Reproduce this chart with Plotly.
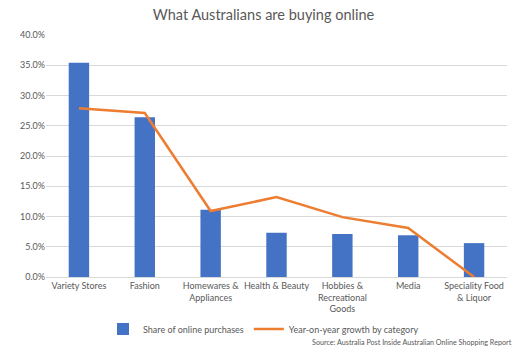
import plotly.graph_objects as go

categories = ["Variety Stores", "Fashion", "Homewares &<br>Appliances", "Health & Beauty",
              "Hobbies &<br>Recreational<br>Goods", "Media", "Speciality Food<br>& Liquor"]
share = [0.354, 0.264, 0.111, 0.073, 0.071, 0.069, 0.056]
growth = [0.279, 0.271, 0.109, 0.132, 0.099, 0.081, 0.0]
tick_vals = [0, 0.05, 0.10, 0.15, 0.20, 0.25, 0.30, 0.35, 0.40]

FONT = "Lato"
GRAY = "#595959"

fig = go.Figure()
fig.add_trace(go.Bar(x=categories, y=share, name="Share of online purchases",
                     marker=dict(color="#4472C4", line=dict(width=0)), width=0.31))
fig.add_trace(go.Scatter(x=categories, y=growth, name="Year-on-year growth by category",
                         mode="lines", line=dict(color="#ED7D31", width=2.5)))

fig.update_layout(
    width=527, height=352,
    margin=dict(l=46, r=20, t=35, b=75, autoexpand=False),
    paper_bgcolor="white", plot_bgcolor="white",
    font=dict(family=FONT, color=GRAY, size=9),
    title=dict(text="What Australians are buying online", x=0.5, xanchor="center",
               xref="container", yref="container",
               y=1 - 15 / 352, yanchor="middle", font=dict(size=14.5, color=GRAY, family=FONT)),
    showlegend=True,
    legend=dict(orientation="h", xref="container", yref="container",
                x=0.5, xanchor="center", y=1 - 329 / 352, yanchor="middle",
                font=dict(size=9, color=GRAY), itemwidth=30, traceorder="normal",
                bgcolor="rgba(0,0,0,0)"),
    bargap=0.69,
)
fig.update_yaxes(range=[0, 0.40], tickvals=tick_vals, tickformat=".1%",
                 showgrid=True, gridcolor="#D9D9D9", gridwidth=1, zeroline=False,
                 showline=False, ticks="", ticklen=0, tickfont=dict(size=9, color=GRAY),
                 automargin=False)
fig.update_xaxes(showgrid=False, showline=True, linecolor="#D9D9D9", linewidth=1,
                 ticks="", tickfont=dict(size=9, color=GRAY), tickangle=0, automargin=False)
fig.add_annotation(text="Source: Australia Post Inside Australian Online Shopping Report",
                   xref="paper", yref="paper", x=1.016, y=-(342 - 277) / 242, xanchor="right",
                   yanchor="middle", showarrow=False,
                   font=dict(size=7.2, color=GRAY, family=FONT))

fig.write_html("out.html")
